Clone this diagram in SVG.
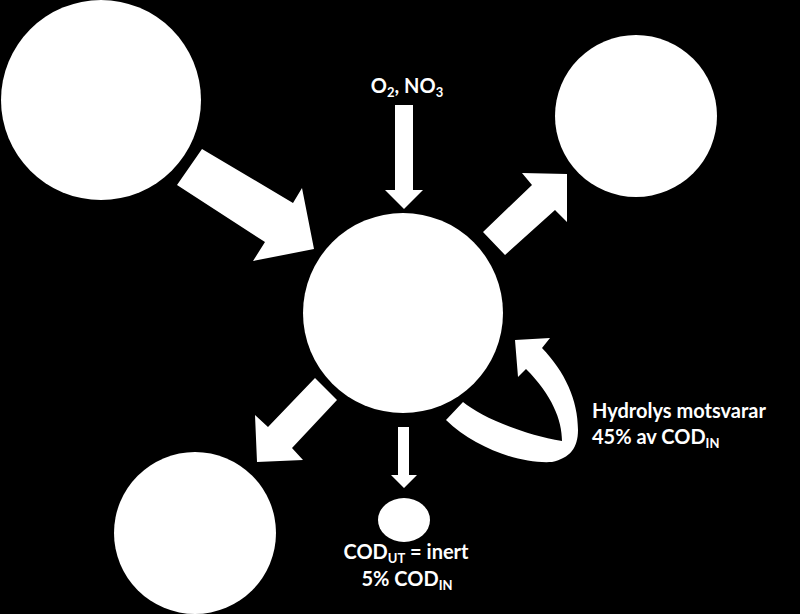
<svg xmlns="http://www.w3.org/2000/svg" width="800" height="614" viewBox="0 0 800 614">
<style>
.n{fill:#ffffff}
.a{fill:#ffffff}
.t{font-family:Lato,"Liberation Sans",Arial,sans-serif;font-weight:700;font-size:20px;fill:#ffffff}
.s{font-size:13px}
</style>
<rect x="0" y="0" width="800" height="614" fill="#000000"/>
<g id="node-source"><circle class="n" cx="101" cy="100" r="100"/></g>
<g id="node-center"><circle class="n" cx="403" cy="313" r="100"/></g>
<g id="node-topright"><circle class="n" cx="636" cy="116" r="81"/></g>
<g id="node-bottomleft"><circle class="n" cx="195" cy="533" r="81"/></g>
<g id="node-inert"><ellipse class="n" cx="404" cy="520" rx="26" ry="22"/></g>
<g id="connectors">
<polygon class="a" points="202,149 293,203 302,188 314,249 253,261 265,242 177,185"/>
<polygon class="a" points="395,105 413,105 413,190 423,190 404,209 385,190 395,190"/>
<polygon class="a" points="483,232 532,185 522,173 567,174 567,222 555,210 505,255"/>
<polygon class="a" points="315,378 337,400 292,448 303,460 257,462 255,415 268,427"/>
<polygon class="a" points="398,427 409,427 409,475 417,475 404,488 391,475 398,475"/>
<path class="a" d="M446,420 L463,402 C480,416 520,434 562,441 C562,420 552,395 526,369 L518,377 L515,340 L550,338 L542,348 C565,372 578,400 578,430 C578,448 570,458 552,462 C520,464 475,448 446,420 Z"/>
</g>
<g id="labels">
<text class="t" x="407" y="93" text-anchor="middle">O<tspan class="s" dy="4">2</tspan><tspan dy="-4">, NO</tspan><tspan class="s" dy="4">3</tspan></text>
<text class="t" x="592" y="418">Hydrolys motsvarar</text>
<text class="t" x="592" y="444">45% av COD<tspan class="s" dy="4">IN</tspan></text>
<text class="t" x="406" y="559" text-anchor="middle">COD<tspan class="s" dy="4">UT</tspan><tspan dy="-4"> = inert</tspan></text>
<text class="t" x="407" y="586" text-anchor="middle">5% COD<tspan class="s" dy="4">IN</tspan></text>
</g>
</svg>
